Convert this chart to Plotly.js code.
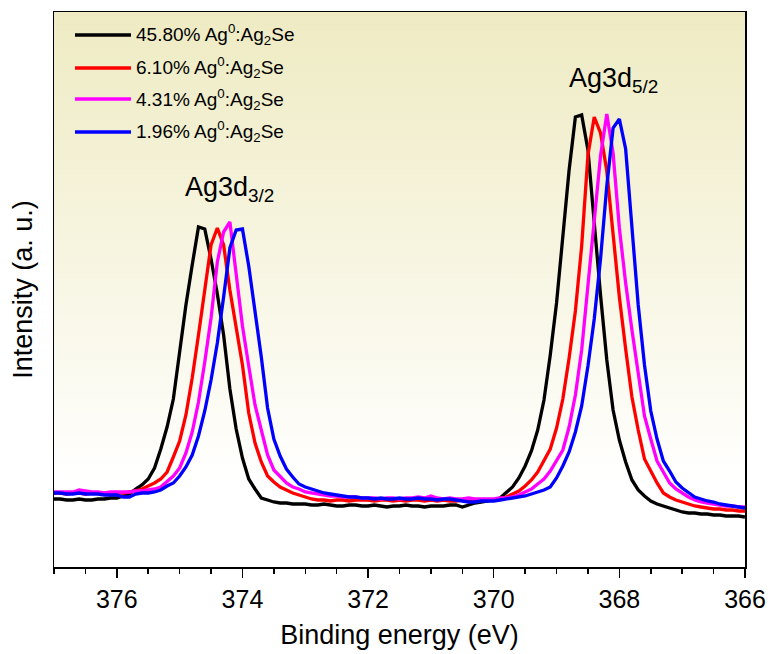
<!DOCTYPE html>
<html>
<head>
<meta charset="utf-8">
<script src="https://cdn.plot.ly/plotly-3.0.1.min.js"></script>
<style>html,body{margin:0;padding:0;background:#fff;}#chart{width:771px;height:654px;}</style>
</head>
<body>
<div id="chart"></div>
<script>
// Binding energy grid (eV), 377.0 -> 366.0, step 0.1
const energy = [
377.0,376.9,376.8,376.7,376.6,376.5,376.4,376.3,376.2,376.1,
376.0,375.9,375.8,375.7,375.6,375.5,375.4,375.3,375.2,375.1,
375.0,374.9,374.8,374.7,374.6,374.5,374.4,374.3,374.2,374.1,
374.0,373.9,373.8,373.7,373.6,373.5,373.4,373.3,373.2,373.1,
373.0,372.9,372.8,372.7,372.6,372.5,372.4,372.3,372.2,372.1,
372.0,371.9,371.8,371.7,371.6,371.5,371.4,371.3,371.2,371.1,
371.0,370.9,370.8,370.7,370.6,370.5,370.4,370.3,370.2,370.1,
370.0,369.9,369.8,369.7,369.6,369.5,369.4,369.3,369.2,369.1,
369.0,368.9,368.8,368.7,368.6,368.5,368.4,368.3,368.2,368.1,
368.0,367.9,367.8,367.7,367.6,367.5,367.4,367.3,367.2,367.1,
367.0,366.9,366.8,366.7,366.6,366.5,366.4,366.3,366.2,366.1,
366.0];

const s45_80 = [
68,68,67,67,68,67,67,68,68,69,
69,71,73,78,82,88,99,118,140,168,
218,262,302,340,338,308,273,232,178,138,
109,88,78,69,67,65,64,64,63,63,
63,62,62,63,62,61,61,62,62,61,
61,62,61,60,61,61,62,61,61,60,
61,61,61,62,62,60,62,64,65,66,
67,69,74,80,89,101,116,137,167,212,
264,327,397,450,452,417,342,272,207,157,
127,105,87,77,71,66,63,61,59,57,
55,54,54,53,53,52,52,51,51,51,
50];

const s6_10 = [
74,74,73,74,74,73,74,74,73,74,
74,74,75,76,78,81,84,88,95,110,
126,152,189,232,280,322,339,322,277,239,
202,154,124,105,91,85,80,77,74,72,
70,68,67,67,66,67,67,66,67,67,
67,66,67,67,66,67,66,67,67,66,
67,66,67,66,66,67,66,67,67,67,
67,68,70,73,76,81,87,95,106,118,
139,168,209,256,321,412,450,434,396,331,
270,218,170,137,108,96,84,74,70,67,
65,63,61,60,59,58,58,57,57,56,
56];

const s4_31 = [
75,75,75,75,77,76,75,75,74,75,
75,75,75,76,76,77,78,80,85,91,
99,114,135,165,205,249,305,335,345,292,
241,201,162,137,112,97,90,84,80,78,
75,74,73,72,71,71,70,70,70,69,
69,69,68,69,69,68,69,69,70,69,
71,69,68,69,68,68,69,68,68,68,
68,69,69,70,72,75,78,83,88,96,
106,117,140,172,217,279,349,411,453,414,
339,284,237,191,151,128,106,95,84,78,
74,70,67,65,64,63,62,61,61,60,
60];

const s1_96 = [
74,74,73,73,74,73,73,73,72,72,
72,70,70,73,74,74,75,77,81,84,
91,100,112,131,156,187,224,270,319,337,
338,301,256,210,159,128,111,98,90,83,
80,78,76,74,73,72,71,70,70,69,
69,68,69,68,68,69,68,68,69,68,
68,67,68,68,67,66,65,65,66,66,
66,67,68,69,70,71,73,75,77,80,
89,101,115,135,161,201,248,308,381,439,
448,418,343,262,202,156,128,106,96,85,
79,74,70,68,66,65,63,62,61,60,
59];

const seriesNames = [
  '45.80% Ag<sup>0</sup>:Ag<sub>2</sub>Se',
  '6.10% Ag<sup>0</sup>:Ag<sub>2</sub>Se',
  '4.31% Ag<sup>0</sup>:Ag<sub>2</sub>Se',
  '1.96% Ag<sup>0</sup>:Ag<sub>2</sub>Se'
];
const seriesValues = [s45_80, s6_10, s4_31, s1_96];
const seriesColors = ['#000000', '#FF0000', '#FF00FF', '#0000FF'];
const xTickVals = [376, 374, 372, 370, 368, 366];
const xTickText = ['376', '374', '372', '370', '368', '366'];
const peakLabels = ['Ag3d<sub>3/2</sub>', 'Ag3d<sub>5/2</sub>'];

const FONT = 'Arial, "Liberation Sans", Helvetica, sans-serif';

const traces = seriesValues.map((v, i) => ({
  type: 'scatter', mode: 'lines', x: energy, y: v, name: seriesNames[i],
  line: {color: seriesColors[i], width: 3.3}, showlegend: false
}));

// manual legend (matches the long legend line segments of the reference)
const legY = [0.9586, 0.8991, 0.8432, 0.7838];
const shapes = seriesNames.map((n, i) => ({
  type: 'line', xref: 'paper', yref: 'paper', x0: 0.0304, x1: 0.1114, y0: legY[i], y1: legY[i],
  line: {color: seriesColors[i], width: 3.5}
}));
const annotations = seriesNames.map((n, i) => ({
  xref: 'paper', yref: 'paper', x: 0.116, y: legY[i], xanchor: 'left', yanchor: 'middle',
  text: n, showarrow: false, font: {family: FONT, size: 19, color: '#000'}
}));
annotations.push({xref: 'x', yref: 'y', x: 374.2, y: 378, text: peakLabels[0], showarrow: false,
  xanchor: 'center', yanchor: 'middle', font: {family: FONT, size: 27, color: '#000'}});
annotations.push({xref: 'x', yref: 'y', x: 368.1, y: 487, text: peakLabels[1], showarrow: false,
  xanchor: 'center', yanchor: 'middle', font: {family: FONT, size: 27, color: '#000'}});

const gradSvg = "<svg xmlns='http://www.w3.org/2000/svg' width='100' height='100' preserveAspectRatio='none'>" +
  "<defs><linearGradient id='g' x1='0' y1='0' x2='0' y2='1'>" +
  "<stop offset='0' stop-color='#EEEBC3'/><stop offset='0.45' stop-color='#F7F5E1'/>" +
  "<stop offset='0.85' stop-color='#FFFFFF'/><stop offset='1' stop-color='#FFFFFF'/>" +
  "</linearGradient></defs><rect width='100' height='100' fill='url(#g)'/></svg>";

const layout = {
  width: 771, height: 654,
  margin: {l: 54, r: 26, t: 12, b: 87},
  paper_bgcolor: '#FFFFFF', plot_bgcolor: 'rgba(0,0,0,0)',
  font: {family: FONT, color: '#000'},
  images: [{source: 'data:image/svg+xml;charset=utf-8,' + encodeURIComponent(gradSvg),
    xref: 'paper', yref: 'paper', x: 0, y: 1, sizex: 1, sizey: 1, sizing: 'stretch',
    xanchor: 'left', yanchor: 'top', layer: 'below'}],
  xaxis: {
    range: [377, 366], tickvals: xTickVals, ticktext: xTickText,
    ticks: 'outside', ticklen: 9, tickwidth: 1.5, tickcolor: '#000',
    minor: {dtick: 0.5, tick0: 366, ticks: 'outside', ticklen: 5, tickwidth: 1.5, tickcolor: '#000'},
    showline: true, mirror: true, linewidth: 1.5, linecolor: '#000',
    showgrid: false, zeroline: false,
    tickfont: {family: FONT, size: 25, color: '#000'},
    title: {text: 'Binding energy (eV)', font: {family: FONT, size: 27, color: '#000'}, standoff: 13}
  },
  yaxis: {
    range: [0, 555], showticklabels: false, ticks: '',
    showline: true, mirror: true, linewidth: 1.5, linecolor: '#000',
    showgrid: false, zeroline: false,
    title: {text: 'Intensity (a. u.)', font: {family: FONT, size: 27, color: '#000'}, standoff: 12}
  },
  shapes: shapes,
  annotations: annotations
};

Plotly.newPlot('chart', traces, layout, {displayModeBar: false, staticPlot: true});
</script>
</body>
</html>
